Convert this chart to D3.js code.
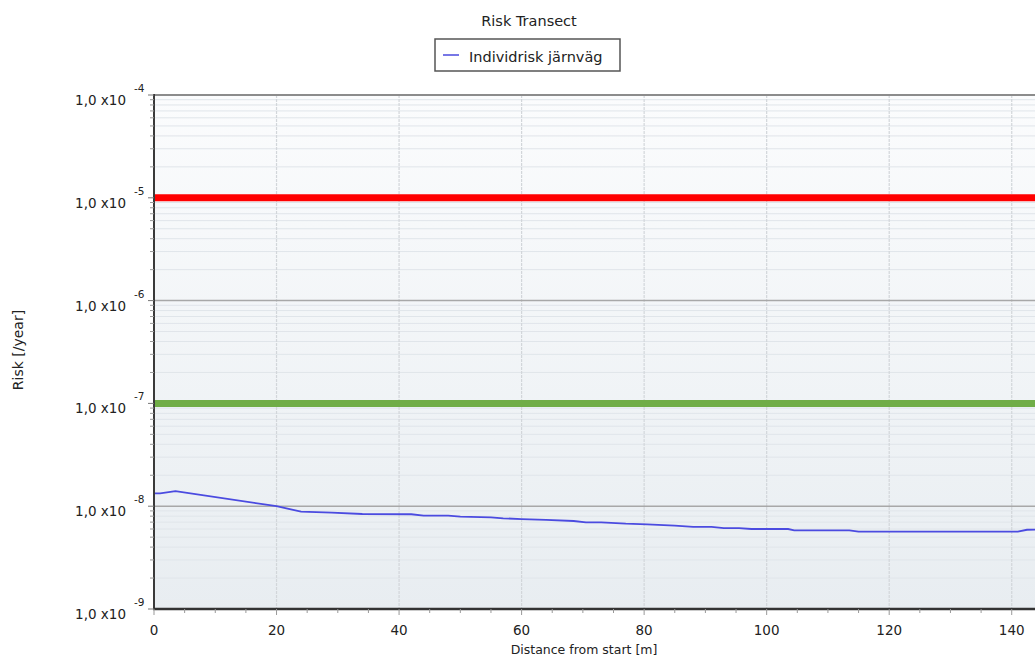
<!DOCTYPE html>
<html>
<head>
<meta charset="utf-8">
<script src="https://cdn.jsdelivr.net/npm/d3@7.9.0/dist/d3.min.js"></script>
<style>
  body { margin: 0; background: #fff; }
  svg { display: block; font-family: "DejaVu Sans", sans-serif; }
</style>
</head>
<body>
<div id="chart"></div>
<script>
// transect data
const distances = [0, 1, 3.5, 20, 24, 29, 34, 42, 44, 48, 50, 55, 57, 60, 64, 68.5, 70.5, 73, 77, 80.5, 85, 88, 91, 93, 95.5, 97.5, 103.5, 104.5, 113.5, 115, 141, 142.5, 150];
const risks = [1.33e-8, 1.33e-8, 1.40e-8, 1.00e-8, 8.85e-9, 8.65e-9, 8.40e-9, 8.35e-9, 8.10e-9, 8.08e-9, 7.9e-9, 7.8e-9, 7.62e-9, 7.5e-9, 7.35e-9, 7.18e-9, 6.97e-9, 6.97e-9, 6.76e-9, 6.67e-9, 6.46e-9, 6.28e-9, 6.28e-9, 6.12e-9, 6.12e-9, 6.0e-9, 6.0e-9, 5.83e-9, 5.83e-9, 5.65e-9, 5.65e-9, 5.9e-9, 5.95e-9];

// criteria lines
const limitValues = [1e-5, 1e-7];
const limitColors = ['#ff0000', '#70ad47'];

const yTickExps = [-4, -5, -6, -7, -8, -9];
const xTicks = [0, 20, 40, 60, 80, 100, 120, 140];

const chartTitle = 'Risk Transect';
const seriesName = 'Individrisk järnväg';
const xTitle = 'Distance from start [m]';
const yTitle = 'Risk [/year]';

const width = 1035;
const height = 657;

const plot = { left: 154, top: 95, bottom: 609, right: 1073 };

const svg = d3.select('#chart')
  .append('svg')
  .attr('width', width)
  .attr('height', height);

const xScale = d3.scaleLinear()
  .domain([0, 150])
  .range([plot.left, plot.right]);

const yScale = d3.scaleLog()
  .domain([1e-9, 1e-4])
  .range([plot.bottom, plot.top]);

// background gradient
const defs = svg.append('defs');
const grad = defs.append('linearGradient')
  .attr('id', 'bg')
  .attr('x1', 0).attr('y1', 0).attr('x2', 0).attr('y2', 1);
grad.append('stop').attr('offset', '0%').attr('stop-color', '#fbfcfd');
grad.append('stop').attr('offset', '100%').attr('stop-color', '#e8edf1');

defs.append('clipPath').attr('id', 'clip')
  .append('rect')
  .attr('x', plot.left).attr('y', plot.top)
  .attr('width', plot.right - plot.left).attr('height', plot.bottom - plot.top);

svg.append('rect')
  .attr('x', plot.left).attr('y', plot.top)
  .attr('width', plot.right - plot.left).attr('height', plot.bottom - plot.top)
  .attr('fill', 'url(#bg)');

const inner = svg.append('g').attr('clip-path', 'url(#clip)');

// minor log gridlines
const minorVals = [];
for (let e = -9; e < -4; e++) {
  for (let m = 2; m <= 9; m++) minorVals.push(m * Math.pow(10, e));
}
inner.append('g')
  .selectAll('line')
  .data(minorVals)
  .join('line')
  .attr('x1', plot.left).attr('x2', plot.right)
  .attr('y1', d => yScale(d)).attr('y2', d => yScale(d))
  .attr('stroke', '#e0e5ea')
  .attr('stroke-width', 1);

// vertical gridlines
inner.append('g')
  .selectAll('line')
  .data(xTicks.filter(d => d > 0))
  .join('line')
  .attr('x1', d => xScale(d)).attr('x2', d => xScale(d))
  .attr('y1', plot.top).attr('y2', plot.bottom)
  .attr('stroke', '#d2d6da')
  .attr('stroke-width', 1.2)
  .attr('stroke-dasharray', '3,1');

// decade gridlines
inner.append('g')
  .selectAll('line')
  .data(yTickExps.slice(1, -1))
  .join('line')
  .attr('x1', plot.left).attr('x2', plot.right)
  .attr('y1', d => yScale(Math.pow(10, d))).attr('y2', d => yScale(Math.pow(10, d)))
  .attr('stroke', '#a8a8a8')
  .attr('stroke-width', 1.5);

// limit lines
inner.append('g')
  .selectAll('line')
  .data(limitValues)
  .join('line')
  .attr('x1', plot.left).attr('x2', plot.right)
  .attr('y1', d => yScale(d)).attr('y2', d => yScale(d))
  .attr('stroke', (d, i) => limitColors[i])
  .attr('stroke-width', 7);

// risk line
const line = d3.line()
  .x((d, i) => xScale(distances[i]))
  .y(d => yScale(d));

inner.append('path')
  .datum(risks)
  .attr('d', line)
  .attr('fill', 'none')
  .attr('stroke', '#4b4be0')
  .attr('stroke-width', 1.8);

// frame
svg.append('line')
  .attr('x1', plot.left).attr('x2', width)
  .attr('y1', plot.top).attr('y2', plot.top)
  .attr('stroke', '#8c8c8c').attr('stroke-width', 2);
svg.append('line')
  .attr('x1', plot.left).attr('x2', plot.left)
  .attr('y1', plot.top - 1).attr('y2', plot.bottom + 1)
  .attr('stroke', '#3a3a3a').attr('stroke-width', 2);
svg.append('line')
  .attr('x1', plot.left - 1).attr('x2', width)
  .attr('y1', plot.bottom).attr('y2', plot.bottom)
  .attr('stroke', '#333').attr('stroke-width', 2.5);

// y ticks
svg.append('g')
  .selectAll('line')
  .data(minorVals)
  .join('line')
  .attr('x1', plot.left - 4).attr('x2', plot.left)
  .attr('y1', d => yScale(d)).attr('y2', d => yScale(d))
  .attr('stroke', '#999');

svg.append('g')
  .selectAll('line')
  .data(yTickExps)
  .join('line')
  .attr('x1', plot.left - 6).attr('x2', plot.left)
  .attr('y1', d => yScale(Math.pow(10, d))).attr('y2', d => yScale(Math.pow(10, d)))
  .attr('stroke', '#777');

const yLabels = svg.append('g')
  .selectAll('g')
  .data(yTickExps)
  .join('g')
  .attr('transform', d => `translate(0, ${yScale(Math.pow(10, d))})`);

yLabels.append('text')
  .attr('x', 126)
  .attr('y', 10)
  .attr('text-anchor', 'end')
  .attr('font-size', 13.5)
  .attr('fill', '#222')
  .text('1,0 x10');

yLabels.append('text')
  .attr('x', 134)
  .attr('y', -3)
  .attr('font-size', 10.5)
  .attr('fill', '#222')
  .text(d => String(d));

// x ticks
const xMinor = d3.range(0, 151, 5);
svg.append('g')
  .selectAll('line')
  .data(xMinor)
  .join('line')
  .attr('x1', d => xScale(d)).attr('x2', d => xScale(d))
  .attr('y1', plot.bottom).attr('y2', d => plot.bottom + (d % 20 === 0 ? 6 : 4))
  .attr('stroke', '#999');

svg.append('g')
  .selectAll('text')
  .data(xTicks)
  .join('text')
  .attr('x', d => xScale(d))
  .attr('y', 635)
  .attr('text-anchor', 'middle')
  .attr('font-size', 13.5)
  .attr('fill', '#222')
  .text(d => d);

// titles
svg.append('text')
  .attr('x', 529)
  .attr('y', 26)
  .attr('text-anchor', 'middle')
  .attr('font-size', 14.5)
  .attr('fill', '#222')
  .text(chartTitle);

svg.append('text')
  .attr('x', 584)
  .attr('y', 654)
  .attr('text-anchor', 'middle')
  .attr('font-size', 12.5)
  .attr('fill', '#222')
  .text(xTitle);

svg.append('text')
  .attr('transform', 'translate(23, 350) rotate(-90)')
  .attr('text-anchor', 'middle')
  .attr('font-size', 14)
  .attr('fill', '#222')
  .text(yTitle);

// legend
const legend = svg.append('g');
legend.append('rect')
  .attr('x', 435).attr('y', 39)
  .attr('width', 185).attr('height', 32)
  .attr('fill', '#fff')
  .attr('stroke', '#555')
  .attr('stroke-width', 1.5);
legend.append('line')
  .attr('x1', 443).attr('x2', 459)
  .attr('y1', 55).attr('y2', 55)
  .attr('stroke', '#7777e6')
  .attr('stroke-width', 2);
legend.append('text')
  .attr('x', 469)
  .attr('y', 62)
  .attr('font-size', 14.5)
  .attr('fill', '#222')
  .text(seriesName);
</script>
</body>
</html>
